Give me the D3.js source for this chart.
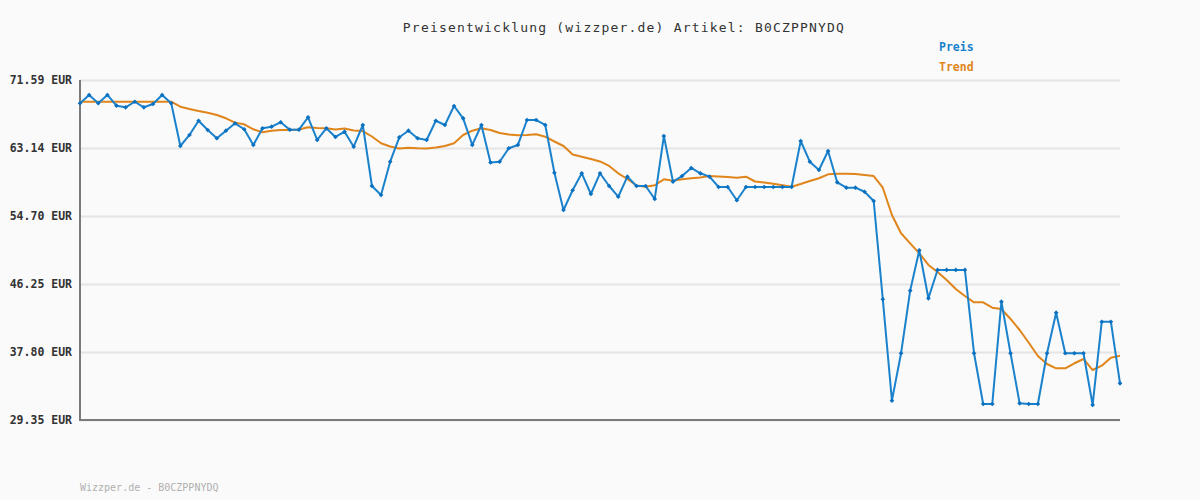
<!DOCTYPE html>
<html>
<head>
<meta charset="utf-8">
<script src="https://cdn.jsdelivr.net/npm/d3@7"></script>
<style>
  html, body { margin: 0; padding: 0; background: #fafafa; }
  svg { display: block; }
</style>
</head>
<body>
<div id="chart"></div>
<script>
const title = "Preisentwicklung (wizzper.de) Artikel: B0CZPPNYDQ";
const footer = "Wizzper.de - B0CZPPNYDQ";
const seriesNames = ["Preis", "Trend"];
const tickValues = [71.59, 63.14, 54.70, 46.25, 37.80, 29.35];
const tickLabels = ["71.59 EUR", "63.14 EUR", "54.70 EUR", "46.25 EUR", "37.80 EUR", "29.35 EUR"];

const price = [
  68.70, 69.73, 68.70, 69.73, 68.40, 68.20, 68.89, 68.20, 68.61, 69.73,
  68.70, 63.39, 64.76, 66.53, 65.38, 64.35, 65.29, 66.21, 65.47, 63.52,
  65.59, 65.79, 66.34, 65.42, 65.42, 66.96, 64.14, 65.59, 64.51, 65.17,
  63.30, 66.00, 58.42, 57.30, 61.44, 64.47, 65.29, 64.35, 64.14, 66.53,
  66.00, 68.36, 66.83, 63.52, 66.00, 61.34, 61.44, 63.11, 63.52, 66.62,
  66.62, 66.00, 60.07, 55.44, 57.89, 60.00, 57.43, 60.00, 58.42, 57.09,
  59.58, 58.42, 58.42, 56.81, 64.63, 58.96, 59.66, 60.66, 60.00, 59.58,
  58.30, 58.30, 56.65, 58.30, 58.30, 58.30, 58.30, 58.30, 58.30, 64.01,
  61.44, 60.41, 62.77, 58.88, 58.21, 58.21, 57.71, 56.56, 44.35, 31.75,
  37.64, 45.42, 50.43, 44.47, 47.99, 47.99, 47.99, 47.99, 37.64, 31.34,
  31.34, 44.05, 37.64, 31.42, 31.34, 31.34, 37.64, 42.68, 37.64, 37.64,
  37.64, 31.22, 41.56, 41.56, 33.91
];

const trend = [
  68.89, 68.89, 68.89, 68.89, 68.89, 68.89, 68.89, 68.89, 68.89, 68.89,
  68.89, 68.27, 67.99, 67.74, 67.53, 67.24, 66.83, 66.29, 66.09, 65.47,
  65.09, 65.29, 65.38, 65.38, 65.44, 65.71, 65.63, 65.59, 65.44, 65.57,
  65.32, 65.25, 64.57, 63.73, 63.33, 63.08, 63.18, 63.11, 63.08, 63.20,
  63.39, 63.73, 64.76, 65.29, 65.59, 65.38, 65.01, 64.82, 64.72, 64.76,
  64.84, 64.55, 63.95, 63.39, 62.34, 62.06, 61.78, 61.47, 60.91, 60.00,
  59.29, 58.48, 58.33, 58.51, 59.25, 59.08, 59.25, 59.38, 59.48, 59.66,
  59.60, 59.54, 59.45, 59.58, 58.98, 58.86, 58.71, 58.51, 58.33, 58.67,
  59.04, 59.38, 59.87, 59.95, 59.94, 59.91, 59.79, 59.66, 58.21, 54.82,
  52.55, 51.30, 50.06, 48.61, 47.74, 46.74, 45.63, 44.76, 43.97, 43.97,
  43.30, 43.14, 41.90, 40.53, 38.95, 37.30, 36.31, 35.77, 35.77, 36.40,
  36.93, 35.56, 36.10, 37.09, 37.34
];

const W = 1200, H = 500;
const mLeft = 80, mRight = 1120, mTop = 80, mBottom = 420;
const blue = "#1a82cc", blueDark = "#0a70c0", orange = "#e0851a";
const mono = "'DejaVu Sans Mono', 'Liberation Mono', monospace";

const svg = d3.select("#chart").append("svg")
  .attr("width", W).attr("height", H)
  .style("background", "#fafafa");

const x = d3.scaleLinear().domain([0, price.length - 1]).range([mLeft, mRight]);
const y = d3.scaleLinear().domain([29.35, 71.59]).range([mBottom, mTop]);

// grid + y axis
const yAxis = d3.axisLeft(y)
  .tickValues(tickValues)
  .tickSizeInner(-(mRight - mLeft))
  .tickSizeOuter(0)
  .tickPadding(8)
  .tickFormat((d, i) => tickLabels[i]);

const gy = svg.append("g").attr("transform", `translate(${mLeft},0)`).call(yAxis);
gy.select(".domain").remove();
gy.selectAll(".tick line").attr("stroke", "#e4e4e4").attr("stroke-width", 2);
gy.selectAll(".tick text")
  .attr("fill", "#333")
  .style("font-family", mono)
  .style("font-size", "11.5px")
  .style("font-weight", "bold");

// axis lines
svg.append("line").attr("x1", mLeft).attr("x2", mLeft).attr("y1", y(71.59)).attr("y2", mBottom + 1)
  .attr("stroke", "#7a7a7a").attr("stroke-width", 2);
svg.append("line").attr("x1", mLeft - 1).attr("x2", mRight).attr("y1", mBottom).attr("y2", mBottom)
  .attr("stroke", "#7a7a7a").attr("stroke-width", 2);

// lines
const line = d3.line().x((d, i) => x(i)).y(d => y(d));

svg.append("path").datum(trend)
  .attr("fill", "none").attr("stroke", orange).attr("stroke-width", 2)
  .attr("stroke-linejoin", "round")
  .attr("d", line);

svg.append("path").datum(price)
  .attr("fill", "none").attr("stroke", blue).attr("stroke-width", 2)
  .attr("stroke-linejoin", "round")
  .attr("d", line);

svg.append("g").selectAll("path").data(price).join("path")
  .attr("transform", (d, i) => `translate(${x(i)},${y(d)})`)
  .attr("d", d3.symbol().type(d3.symbolDiamond2).size(14))
  .attr("fill", blueDark);

// title
svg.append("text")
  .attr("x", 624).attr("y", 32)
  .attr("text-anchor", "middle")
  .attr("fill", "#333")
  .style("font-family", mono)
  .style("font-size", "13px")
  .style("letter-spacing", "1.2px")
  .text(title);

// legend
const legendColors = [blue, orange];
svg.append("g").selectAll("text").data(seriesNames).join("text")
  .attr("x", 939)
  .attr("y", (d, i) => 51 + i * 20)
  .attr("fill", (d, i) => legendColors[i])
  .style("font-family", mono)
  .style("font-size", "11.5px")
  .style("font-weight", "bold")
  .text(d => d);

// footer
svg.append("text")
  .attr("x", 80).attr("y", 491)
  .attr("fill", "#b0b0b0")
  .style("font-family", mono)
  .style("font-size", "10px")
  .text(footer);
</script>
</body>
</html>
